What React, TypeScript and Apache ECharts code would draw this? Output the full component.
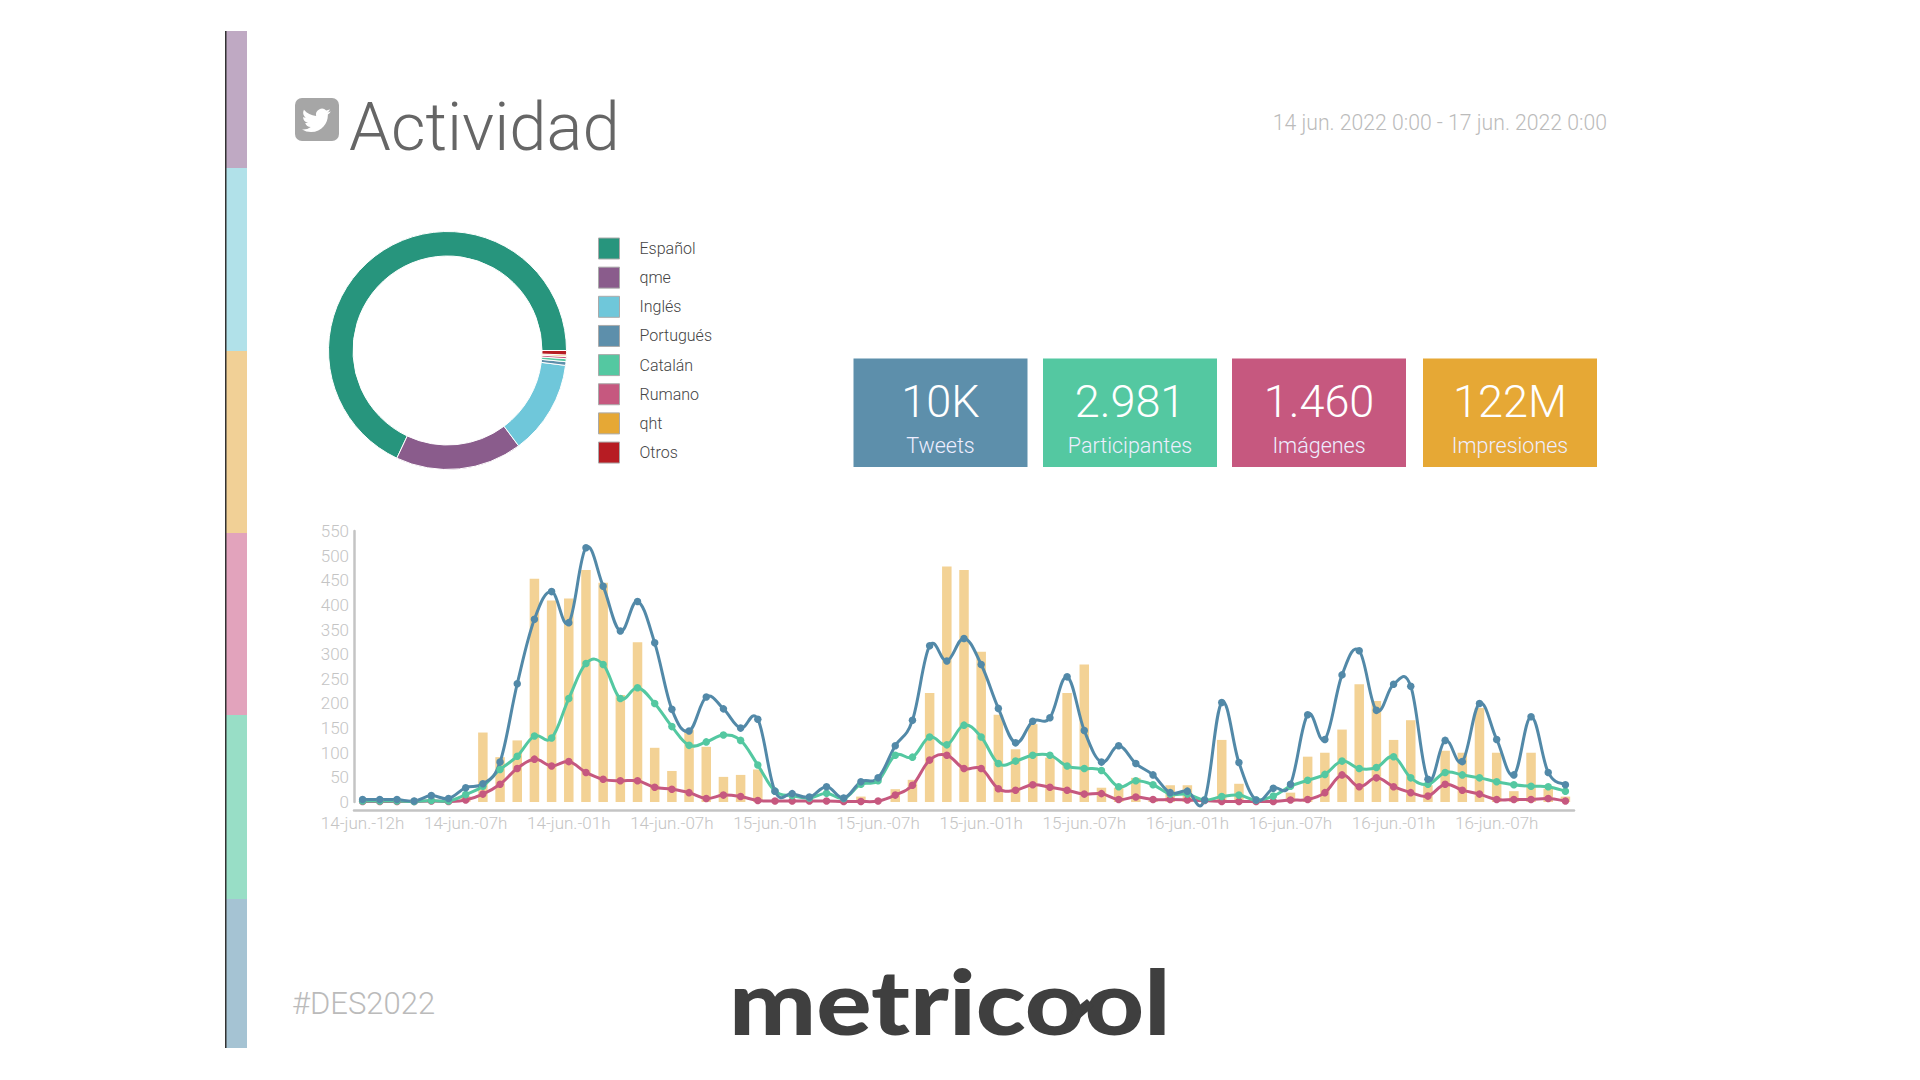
import React, { useEffect, useRef } from "react";
import * as echarts from "echarts";

const tickLabels = ["14-jun.-12h","14-jun.-07h","14-jun.-01h","14-jun.-07h","15-jun.-01h","15-jun.-07h","15-jun.-01h","15-jun.-07h","16-jun.-01h","16-jun.-07h","16-jun.-01h","16-jun.-07h"];
const yTicks = 50;
const tweets = [5,5,5,2,13,7,29,37,81,240,371,427,364,516,438,347,407,323,188,144,213,189,150,168,22,17,10,31,8,41,49,114,166,317,286,332,279,190,120,164,171,254,145,81,114,78,55,19,22,4,202,80,4,28,36,177,127,258,307,186,239,235,46,125,82,200,127,55,173,60,35];
const participantes = [2,2,2,1,3,2,15,32,66,93,134,130,210,281,279,210,232,200,153,115,122,136,125,75,22,13,8,18,7,36,43,95,91,132,116,156,132,78,83,95,95,73,68,64,31,43,35,16,16,4,11,14,4,12,32,44,56,83,68,70,92,49,36,60,55,49,41,35,32,31,22];
const imagenes = [1,1,1,1,2,1,4,16,36,68,87,73,82,60,46,43,43,30,26,19,7,14,11,3,2,2,2,2,1,1,2,14,34,85,95,68,68,27,24,35,30,24,16,17,5,10,5,5,4,3,1,1,1,1,4,5,19,55,31,49,31,19,12,36,24,16,5,5,5,7,2];
const impresiones = [0,0,0,0,0,2,12,141,91,125,453,409,413,471,445,217,324,110,63,147,112,51,55,66,4,0,0,0,0,11,0,26,45,221,478,471,305,177,107,158,90,221,279,29,29,49,3,34,34,0,126,37,0,0,19,92,100,147,239,205,126,166,34,104,100,191,100,22,100,27,11];
const categories = tweets.map((_, i) => (i % 6 === 0 ? tickLabels[i / 6] : ""));

const donutNames = ["Español","qme","Inglés","Portugués","Catalán","Rumano","qht","Otros"];
const donutValues = [68,17.2,12.8,0.5,0.4,0.3,0.2,0.6];
const donutColors = ["#27957D","#8A5C8C","#6FC7DA","#5D8FAB","#54C8A1","#C6587F","#E6A835","#B71C23"];

const tileValues = ["10K","2.981","1.460","122M"];
const tileLabels = ["Tweets","Participantes","Imágenes","Impresiones"];
const tileColors = ["#5D8FAB","#54C8A1","#C6587F","#E6A835"];
const tileLefts = [853.5,1043,1232,1423];

const stripColors = ["#BFA9C3","#B1E1E9","#F1D096","#E2A3BC","#98DEC6","#A5C3D3"];
const stripEdges = [31,168,351,533,715,899,1048];

const BIRD = "M23.953 4.57a10 10 0 0 1 -2.825 .775a4.958 4.958 0 0 0 2.163 -2.723c-.951.555-2.005.959-3.127 1.184a4.92 4.92 0 0 0 -8.384 4.482C7.69 8.095 4.067 6.13 1.64 3.162a4.822 4.822 0 0 0 -.666 2.475c0 1.71.87 3.213 2.188 4.096a4.904 4.904 0 0 1 -2.228 -.616v.06a4.923 4.923 0 0 0 3.946 4.827a4.996 4.996 0 0 1 -2.212 .085a4.936 4.936 0 0 0 4.604 3.417a9.867 9.867 0 0 1 -6.102 2.105c-.39 0-.779-.023-1.17-.067a13.995 13.995 0 0 0 7.557 2.209c9.053 0 13.998-7.496 13.998-13.985 0-.21 0-.42-.015-.63A9.935 9.935 0 0 0 24 4.59z";
echarts.graphic.registerShape("bird", echarts.graphic.extendPath(BIRD as any, {}) as any);

const FONT = "Roboto";
const TENSION = 0.19;

export default function App() {
  const ref = useRef<HTMLDivElement>(null);
  useEffect(() => {
    const chart = echarts.init(ref.current!, undefined, { renderer: "svg" });
    const curve = (name: string, data: number[], color: string) => ({
      name: name + " curva", type: "custom", data, z: 3, clip: false, silent: true,
      renderItem: (params: any, api: any) => {
        const i = params.dataIndex;
        if (i >= data.length - 1) return null;
        const at = (k: number) => {
          const j = Math.max(0, Math.min(data.length - 1, k));
          return api.coord([j, data[j]]);
        };
        const p0 = at(i - 1), p1 = at(i), p2 = at(i + 1), p3 = at(i + 2);
        return {
          type: "bezierCurve",
          shape: {
            x1: p1[0], y1: p1[1], x2: p2[0], y2: p2[1],
            cpx1: p1[0] + (p2[0] - p0[0]) * TENSION, cpy1: p1[1] + (p2[1] - p0[1]) * TENSION,
            cpx2: p2[0] - (p3[0] - p1[0]) * TENSION, cpy2: p2[1] - (p3[1] - p1[1]) * TENSION,
          },
          style: { stroke: color, lineWidth: 3, fill: "none", lineCap: "round" },
        };
      },
    });
    const dots = (name: string, data: number[], color: string) => ({
      name, type: "line", data, symbol: "circle", symbolSize: 7.5, showSymbol: true, clip: false,
      lineStyle: { width: 0, opacity: 0 }, itemStyle: { color }, z: 4,
    });
    const strip: any[] = stripColors.map((c, i) => ({
      type: "rect", shape: { x: 226, y: stripEdges[i], width: 21, height: stripEdges[i + 1] - stripEdges[i] }, style: { fill: c },
    }));
    strip.push({ type: "rect", shape: { x: 225, y: 31, width: 1.5, height: 1017 }, style: { fill: "#333" } });
    const tiles: any[] = [];
    tileValues.forEach((v, i) => {
      const cx = tileLefts[i] + 87;
      tiles.push({ type: "rect", shape: { x: tileLefts[i], y: 358.5, width: 174, height: 108.5 }, style: { fill: tileColors[i] } });
      tiles.push({ type: "text", x: cx, y: 401, style: { text: v, fill: "#fff", font: `300 45px ${FONT}`, textAlign: "center", textVerticalAlign: "middle" } });
      tiles.push({ type: "text", x: cx, y: 445.5, style: { text: tileLabels[i], fill: "#eef", font: `300 21.5px ${FONT}`, textAlign: "center", textVerticalAlign: "middle" } });
    });
    chart.setOption({
      animation: false,
      backgroundColor: "#fff",
      grid: { left: 354, top: 531, width: 1220, height: 271, containLabel: false },
      xAxis: {
        type: "category", data: categories, boundaryGap: true, offset: 8,
        axisLine: { onZero: false, lineStyle: { color: "#c4c4c4", width: 2.5 } }, axisTick: { show: false },
        axisLabel: { interval: 5, color: "#c4c4c4", fontSize: 17, fontFamily: FONT, fontWeight: 300, margin: 4, hideOverlap: false },
      },
      yAxis: {
        type: "value", min: 0, max: 550, interval: yTicks,
        axisLine: { show: true, lineStyle: { color: "#c4c4c4", width: 2.5 } }, axisTick: { show: false }, splitLine: { show: false },
        axisLabel: { color: "#c4c4c4", fontSize: 17, fontFamily: FONT, fontWeight: 300, margin: 5 },
      },
      legend: {
        orient: "vertical", left: 593, top: 232.5, itemWidth: 21, itemHeight: 21, itemGap: 7.15, data: donutNames,
        icon: "rect", itemStyle: { borderColor: "#aaa", borderWidth: 1 },
        textStyle: { color: "#444", fontSize: 16, fontFamily: FONT, fontWeight: 300, padding: [0, 0, 0, 15] }, selectedMode: false,
      },
      series: [
        { name: "Impresiones", type: "bar", data: impresiones, barWidth: 9.5, itemStyle: { color: "#F3D295" }, z: 1 },
        curve("Imágenes", imagenes, "#C6587F"),
        curve("Participantes", participantes, "#54C8A1"),
        curve("Tweets", tweets, "#5289A8"),
        dots("Imágenes", imagenes, "#C6587F"),
        dots("Participantes", participantes, "#54C8A1"),
        dots("Tweets", tweets, "#5289A8"),
        {
          name: "Idiomas", type: "pie", center: [447.5, 350.5], radius: [94.5, 119], startAngle: 0, clockwise: false,
          minAngle: 0, label: { show: false }, labelLine: { show: false },
          itemStyle: { borderColor: "#fff", borderWidth: 1 },
          data: donutNames.map((n, i) => ({ name: n, value: donutValues[i], itemStyle: { color: donutColors[i] } })),
        },
      ],
      graphic: [
        ...strip,
        { type: "rect", shape: { x: 295, y: 98, width: 44, height: 43, r: 7 }, style: { fill: "#a6a6a6" } },
        { type: "bird", x: 302, y: 106, scaleX: 1.2, scaleY: 1.2, style: { fill: "#fff" } },
        { type: "text", x: 349, y: 127, style: { text: "Actividad", fill: "#666", font: `300 67px ${FONT}`, textAlign: "left", textVerticalAlign: "middle" } },
        { type: "text", x: 1607, y: 122, style: { text: "14 jun. 2022 0:00 - 17 jun. 2022 0:00", fill: "#bbb", font: `300 21.2px ${FONT}`, textAlign: "right", textVerticalAlign: "middle" } },
        ...tiles,
        { type: "text", x: 292, y: 1003, style: { text: "#DES2022", fill: "#bbb", font: `300 31px ${FONT}`, textAlign: "left", textVerticalAlign: "middle" } },
        { type: "text", x: 729, y: 1000, scaleX: 1.148, style: { text: "metricool", fill: "#3f3f3f", font: `900 90px Lato`, textAlign: "left", textVerticalAlign: "middle" } },
        { type: "polygon", shape: { points: [[1071, 1012], [1087, 999], [1094, 1006], [1078, 1020]] }, style: { fill: "#3f3f3f" } },
      ],
    });
    return () => chart.dispose();
  }, []);
  return <div ref={ref} style={{ position: "absolute", left: 0, top: 0, width: 1920, height: 1080 }} />;
}
